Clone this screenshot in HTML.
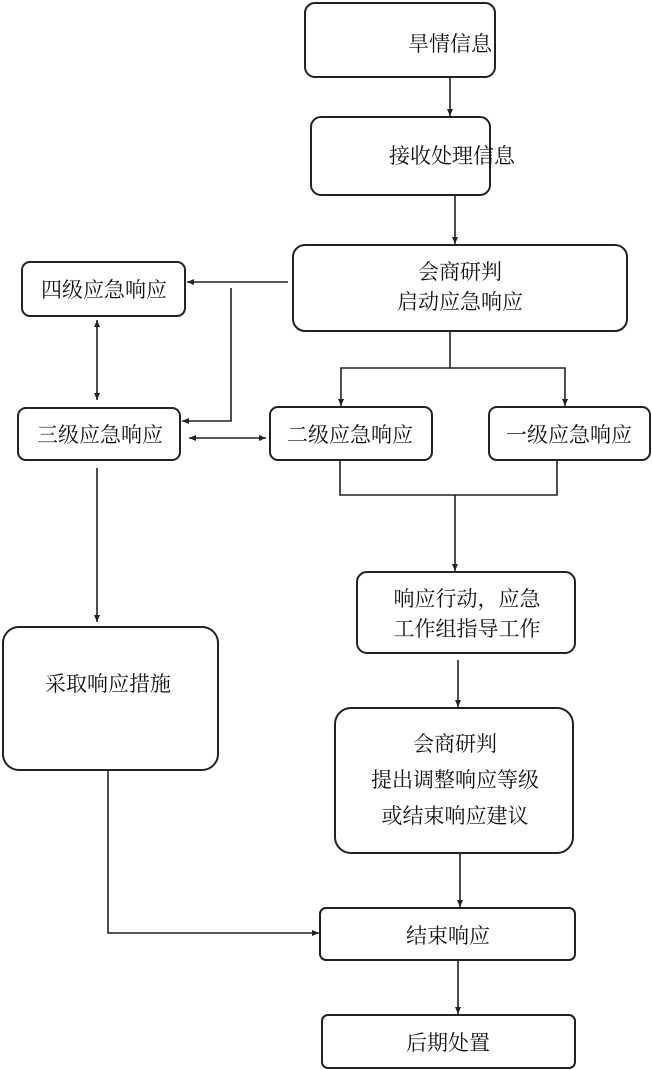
<!DOCTYPE html>
<html><head><meta charset="utf-8"><style>
html,body{margin:0;padding:0;background:#fff;}
svg{display:block}
text{font-family:"Liberation Serif","Noto Serif CJK SC","Noto Sans CJK SC",serif;font-size:21px;fill:#111;}
</style></head><body>
<svg width="652" height="1070" viewBox="0 0 652 1070">
<defs><marker id="a" markerWidth="8" markerHeight="8" refX="7" refY="4" orient="auto-start-reverse" markerUnits="userSpaceOnUse"><path d="M0,1 L7,4 L0,7 Z" fill="#222"/></marker></defs>
<g fill="none" stroke="#222" stroke-width="2">
<rect x="305" y="3" width="190" height="74" rx="10"/>
<rect x="311" y="117" width="179" height="78" rx="10"/>
<rect x="293" y="245" width="334" height="86" rx="12"/>
<rect x="22" y="262" width="163" height="54" rx="8"/>
<rect x="18" y="408" width="162" height="52" rx="8"/>
<rect x="270" y="407" width="162" height="53" rx="8"/>
<rect x="489" y="407" width="161" height="53" rx="8"/>
<rect x="357" y="572" width="218" height="81" rx="10"/>
<rect x="3" y="627" width="215" height="143" rx="16"/>
<rect x="335" y="708" width="238" height="145" rx="16"/>
<rect x="320" y="908" width="255" height="52" rx="6"/>
<rect x="322" y="1015" width="253" height="53" rx="6"/>
</g>
<g fill="none" stroke="#222" stroke-width="1.6">
<line x1="450" y1="77" x2="450" y2="116" marker-end="url(#a)"/>
<line x1="455" y1="195" x2="455" y2="244" marker-end="url(#a)"/>
<line x1="288" y1="282" x2="187" y2="282" marker-end="url(#a)"/>
<polyline points="231,288 231,421 182,421" marker-end="url(#a)"/>
<line x1="97" y1="320" x2="97" y2="400" marker-start="url(#a)" marker-end="url(#a)"/>
<line x1="189" y1="438" x2="266" y2="438" marker-start="url(#a)" marker-end="url(#a)"/>
<polyline points="450,331 450,368 341,368 341,406" marker-end="url(#a)"/>
<polyline points="450,368 565,368 565,406" marker-end="url(#a)"/>
<polyline points="340,460 340,495 557,495 557,460"/>
<line x1="455" y1="495" x2="455" y2="571" marker-end="url(#a)"/>
<line x1="458" y1="660" x2="458" y2="707" marker-end="url(#a)"/>
<line x1="460" y1="853" x2="460" y2="907" marker-end="url(#a)"/>
<line x1="458" y1="960" x2="458" y2="1014" marker-end="url(#a)"/>
<line x1="97" y1="468" x2="97" y2="622" marker-end="url(#a)"/>
<polyline points="108,770 108,933 319,933" marker-end="url(#a)"/>
</g>
<g text-anchor="middle">
<text x="450" y="51">旱情信息</text>
<text x="452" y="163">接收处理信息</text>
<text x="460" y="279">会商研判</text>
<text x="460" y="309">启动应急响应</text>
<text x="104" y="297">四级应急响应</text>
<text x="100" y="442">三级应急响应</text>
<text x="350" y="442">二级应急响应</text>
<text x="569" y="442">一级应急响应</text>
<text x="467" y="606">响应行动，应急</text>
<text x="467" y="636">工作组指导工作</text>
<text x="108" y="691">采取响应措施</text>
<text x="455" y="751">会商研判</text>
<text x="455" y="787">提出调整响应等级</text>
<text x="455" y="823">或结束响应建议</text>
<text x="448" y="943">结束响应</text>
<text x="448" y="1050">后期处置</text>
</g>
</svg>
</body></html>
